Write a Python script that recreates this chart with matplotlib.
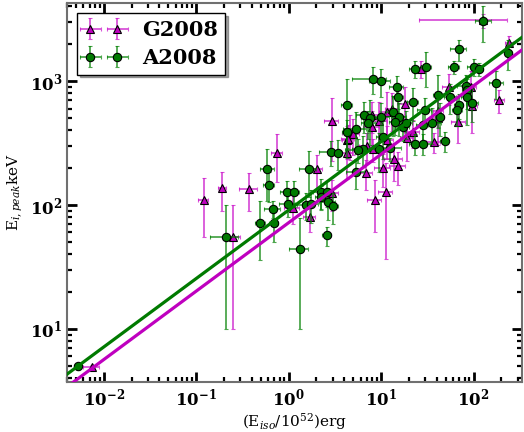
import matplotlib
matplotlib.use("Agg")
import matplotlib.pyplot as plt
import numpy as np
from matplotlib.ticker import FuncFormatter, LogLocator

plt.rcParams['font.family'] = ['DejaVu Serif']
plt.rcParams['mathtext.fontset'] = 'dejavuserif'

# A2008 (green circles)
a_x = [0.0052, 0.21, 0.59, 0.61, 0.67, 0.49, 0.69, 0.95, 1.13, 0.98, 1.31, 1.64, 1.53, 1.73,
       2.22, 2.58, 2.22, 2.64, 2.99, 2.58, 2.84, 3.39, 4.24, 4.24, 128, 69, 239, 23, 31, 61,
       100, 116, 8.1, 9.9, 14.7, 15.1, 21.9, 41.8, 82, 86, 56, 84, 177, 69, 67, 97.5, 29.5,
       43, 36, 13.3, 15.8, 6.6, 7.5, 7.3, 10.1, 5.4, 17.1, 10.4, 23, 28.1, 48.6, 12.4, 6.3,
       5.6, 9.4, 5.4, 14.3, 28.1, 18.4]
a_y = [5.0, 55, 195, 145, 93, 72, 72, 127, 127, 102, 44, 195, 100, 102, 127, 127, 116, 106,
       98, 57, 268, 263, 640, 388, 3050, 1810, 1680, 1250, 1300, 1300, 1300, 1250, 1040,
       1000, 895, 743, 678, 771, 912, 846, 743, 743, 964, 640, 583, 665, 583, 513, 458, 562,
       513, 532, 504, 458, 513, 410, 426, 354, 311, 311, 328, 288, 283, 278, 283, 185, 467,
       442, 458]
a_xerr = [0.0004, 0.07, 0.10, 0.08, 0.13, 0.06, 0.07, 0.15, 0.15, 0.20, 0.30, 0.35, 0.30,
          0.35, 0.40, 0.30, 0.30, 0.50, 0.40, 0.30, 0.70, 0.40, 0.60, 0.50, 25, 13, 20, 3, 4,
          8, 15, 12, 3.2, 2.5, 2.5, 2, 3, 5, 15, 10, 8, 10, 30, 8, 8, 15, 5, 5, 8, 2, 3, 1.2,
          1.5, 1.2, 2, 1.5, 3, 1.5, 3, 6, 5, 4, 1.5, 1.5, 2, 1.2, 2, 4, 3]
a_yerr = [0.3, 45, 88, 40, 15, 36, 22, 30, 30, 22, 34, 80, 25, 30, 35, 30, 25, 30, 28, 10,
          60, 70, 400, 100, 1000, 350, 450, 200, 400, 150, 200, 150, 250, 250, 200, 150, 200,
          350, 200, 250, 200, 300, 250, 150, 150, 200, 150, 150, 150, 200, 150, 150, 200, 120,
          150, 150, 100, 120, 60, 60, 60, 60, 80, 60, 100, 50, 100, 150, 120]

# G2008 (magenta triangles)
g_x = [0.0074, 0.12, 0.19, 0.37, 0.74, 0.25, 1.10, 2.01, 1.69, 2.92, 4.24, 4.24, 2.92, 128,
       245, 26.7, 18.0, 53.7, 95, 191, 97.5, 41.8, 40.8, 68.8, 11.5, 13.0, 9.6, 7.9, 4.56,
       4.92, 4.34, 18.9, 21.9, 11.5, 37, 7.0, 8.1, 13.7, 15.1, 10.4, 6.8, 11.2, 8.5, 7.9]
g_y = [4.9, 110, 137, 135, 263, 55, 95, 195, 80, 476, 334, 263, 125, 3100, 2020, 1250, 653,
       895, 895, 703, 629, 573, 504, 467, 562, 594, 476, 426, 381, 374, 341, 347, 388, 334,
       322, 299, 283, 235, 206, 199, 181, 127, 110, 532]
g_xerr = [0.0015, 0.015, 0.02, 0.08, 0.10, 0.05, 0.20, 0.30, 0.25, 0.5, 0.5, 0.6, 0.5, 102,
          25, 4, 3, 8, 12, 25, 12, 5, 5, 12, 2, 2, 2, 1.5, 0.8, 0.8, 0.7, 3, 4, 2, 6, 1.2,
          1.5, 3, 3, 2, 1.2, 2, 1.5, 1.5]
g_yerr = [0.2, 55, 48, 45, 110, 45, 25, 60, 20, 250, 100, 100, 35, 400, 300, 200, 250, 250,
          300, 150, 250, 150, 200, 150, 250, 200, 200, 150, 150, 120, 100, 120, 100, 100, 60,
          80, 60, 80, 60, 60, 50, 90, 50, 150]

# fitted relations E_p = K * E_iso^m
a_K, a_m = 91.0, 0.552
g_K, g_m = 72.0, 0.552

xlim = (0.004, 334)
ylim = (3.74, 4260)

fig = plt.figure(figsize=(5.24, 4.32), dpi=100)
ax = fig.add_axes([0.128, 0.116, 0.868, 0.877])

xx = np.logspace(np.log10(xlim[0]), np.log10(xlim[1]), 200)

ax.errorbar(g_x, g_y, xerr=g_xerr, yerr=g_yerr, fmt='^', color='#bf00bf', mec='black',
            mew=0.8, ms=6, ecolor=(0.8, 0.1, 0.8, 0.75), elinewidth=1.3, capsize=1.5,
            capthick=1.0, label='G2008', zorder=3)
ax.errorbar(a_x, a_y, xerr=a_xerr, yerr=a_yerr, fmt='o', color='#007a00', mec='black',
            mew=0.8, ms=6, ecolor=(0.0, 0.5, 0.0, 0.7), elinewidth=1.3, capsize=1.5,
            capthick=1.0, label='A2008', zorder=4)
ax.plot(xx, g_K * xx ** g_m, color='#bf00bf', lw=2.3, zorder=5)
ax.plot(xx, a_K * xx ** a_m, color='#007a00', lw=2.3, zorder=5)

ax.set_xscale('log')
ax.set_yscale('log')
ax.set_xlim(*xlim)
ax.set_ylim(*ylim)

fmt = FuncFormatter(lambda v, p: r'$\mathbf{10^{%d}}$' % int(round(np.log10(v))))
ax.xaxis.set_major_formatter(fmt)
ax.yaxis.set_major_formatter(fmt)
ax.xaxis.set_minor_locator(LogLocator(base=10, subs=np.arange(2, 10), numticks=20))
ax.yaxis.set_minor_locator(LogLocator(base=10, subs=np.arange(2, 10), numticks=20))
ax.tick_params(which='both', direction='in', top=True, right=True, labelsize=12)
ax.tick_params(which='major', length=7, width=2)
ax.tick_params(which='minor', length=3.5, width=1.6)
ax.tick_params(axis='x', which='major', pad=4)
for s in ax.spines.values():
    s.set_color('#707070')
    s.set_linewidth(1.5)

ax.set_xlabel(r'(E$_{iso}$/10$^{52}$)erg', fontsize=11, labelpad=1)
ax.set_ylabel(r'E$_{i,peak}$keV', fontsize=11, labelpad=3)

leg = ax.legend(loc='upper left', numpoints=2, shadow=True, fancybox=False,
                prop={'family': 'DejaVu Serif', 'weight': 'bold', 'size': 15},
                borderaxespad=0.5, handlelength=1.9, handletextpad=0.9,
                labelspacing=0.38, borderpad=0.32, edgecolor='black')
leg.get_frame().set_linewidth(1.0)

fig.savefig('out.png', dpi=100)
